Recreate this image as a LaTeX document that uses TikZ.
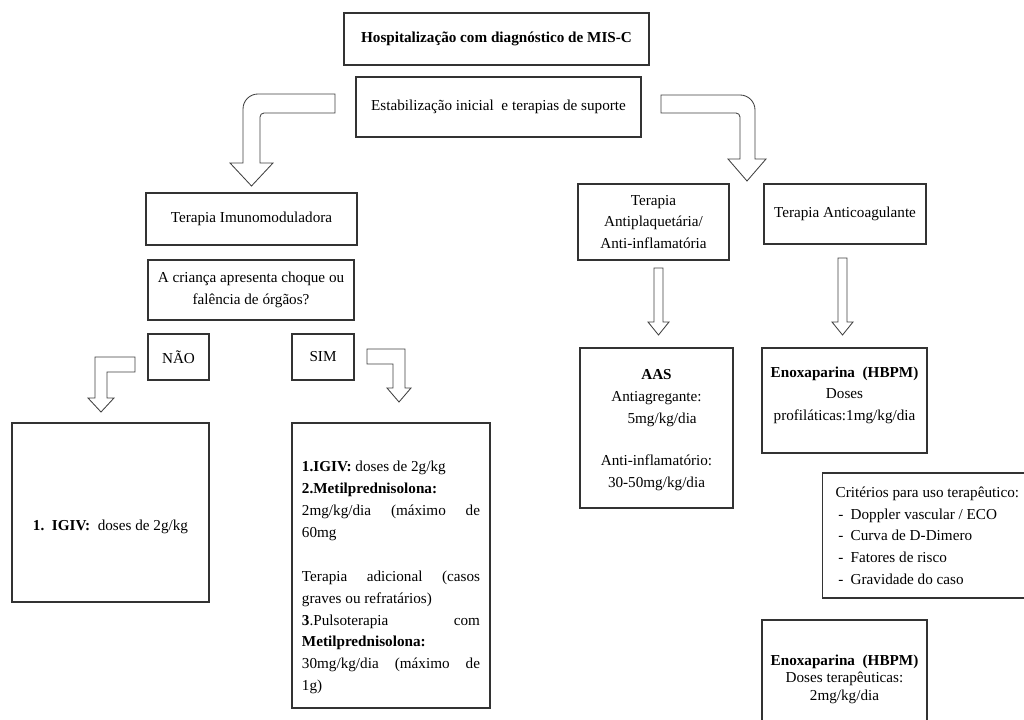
\documentclass[tikz,border=0pt]{standalone}
\usepackage{fontspec}
\setmainfont{Liberation Serif}
\tikzstyle{box} = [draw=black!80, line width=0.9pt, rectangle, align=center, inner sep=2pt]
\tikzstyle{hollow} = [draw=black!75, line width=0.6pt, fill=white, line join=miter]
\tikzset{boxsize/.style 2 args={minimum width=#1*0.025cm, minimum height=#2*0.025cm}}
% straight hollow arrow: x, top of shaft, tip
\newcommand{\hollowdown}[3]{%
  \draw [hollow] (#1-4.5,#2) -- (#1+4.5,#2) -- (#1+4.5,#3-13) -- (#1+10.5,#3-13)
    -- (#1,#3) -- (#1-10.5,#3-13) -- (#1-4.5,#3-13) -- cycle;}
\newcommand{\itemdash}{\makebox[10.7pt][l]{\hspace{2pt}-}}

\begin{document}
\begin{tikzpicture}[x=0.025cm, y=-0.025cm, font=\fontsize{10.8}{15.4}\selectfont]
\useasboundingbox (0,0) rectangle (1024,720);
\clip (0,0) rectangle (1024,720);

% Place nodes
\node [box, boxsize={305}{52}] (hosp) at (496.5,39) {\textbf{Hospitalização com diagnóstico de MIS-C}};
\node [box, boxsize={285}{60}] (estab) at (498.5,107) {Estabilização inicial~ e terapias de suporte};
\node [box, boxsize={211}{52}] (imuno) at (251.5,219) {Terapia Imunomoduladora};
\node [box, boxsize={206}{60}] (choque) at (251,290) {A criança apresenta choque ou\\falência de órgãos?};
\node [box, boxsize={61}{46}] (nao) at (178.5,357) {NÃO};
\node [box, boxsize={62}{46}] (sim) at (323,357) {SIM};
\node [box, boxsize={197}{179}] (igiv) at (110.5,512.5) {\mbox{}\\[12pt]\textbf{1.~~IGIV:}~~doses de 2g/kg};
\node [box, boxsize={198}{285}, text width=4.45cm, inner xsep=0.25cm, align=justify,
       font=\fontsize{10.8}{15.6}\selectfont] (pulso) at (391,565.5)
  {\mbox{}\\[9pt]
   \textbf{1.IGIV:} doses de 2g/kg\\
   \textbf{2.Metilprednisolona:}\\
   2mg/kg/dia\hfill(máximo\hfill de\\
   60mg\\
   \mbox{}\\
   Terapia\hfill adicional\hfill (casos\\
   graves ou refratários)\\
   \textbf{3}.Pulsoterapia\hfill com\\
   \textbf{Metilprednisolona:}\\
   30mg/kg/dia\hfill (máximo\hfill de\\
   1g)};
\node [box, boxsize={151}{76}] (antiplaq) at (653.5,222) {Terapia\\Antiplaquetária/\\Anti-inflamatória};
\node [box, boxsize={162}{60}] (anticoag) at (845,214) {Terapia Anticoagulante};
\node [box, boxsize={153}{160}] (aas) at (656.5,428)
  {\mbox{}\\[-5pt]\textbf{AAS}\\Antiagregante:\\\hspace*{8pt}5mg/kg/dia\\[15pt]Anti-inflamatório:\\30-50mg/kg/dia};
\node [box, boxsize={165}{105}] (enoxprof) at (844.5,400.5)
  {\textbf{Enoxaparina~~(HBPM)}\\Doses\\profiláticas:1mg/kg/dia\\[-5.7pt]\mbox{}};
\node [box, boxsize={246}{125}, text width=5.5cm, inner xsep=0.325cm, align=flush left, anchor=west] (criterios) at (822,535.5)
  {Critérios para uso terapêutico:\\
   \itemdash Doppler vascular / ECO\\
   \itemdash Curva de D-Dimero\\
   \itemdash Fatores de risco\\
   \itemdash Gravidade do caso};
\node [box, boxsize={165}{118}, font=\fontsize{10.8}{12.5}\selectfont] (enoxter) at (844.5,679)
  {\textbf{Enoxaparina~~(HBPM)}\\Doses terapêuticas:\\2mg/kg/dia};

% Place arrows
\draw [hollow] (335,94) -- (258,94) to[out=180,in=90] (243,109) -- (243,163) -- (230,163) -- (251.5,186)
  -- (273,163) -- (260,163) -- (260,117) to[out=90,in=180] (264,113) -- (335,113) -- cycle;
\draw [hollow] (661,95) -- (740,95) to[out=0,in=90] (755,110) -- (755,159) -- (766,159) -- (747,181)
  -- (728,159) -- (740,159) -- (740,117) to[out=90,in=0] (736,113) -- (661,113) -- cycle;
\draw [hollow] (135,357) -- (95,357) -- (95,398) -- (88,398) -- (101,412) -- (114,398) -- (107,398)
  -- (107,372) -- (135,372) -- cycle;
\draw [hollow] (367,349) -- (405,349) -- (405,388) -- (411,388) -- (399,402) -- (387,388) -- (393,388)
  -- (393,364) -- (367,364) -- cycle;
\hollowdown{658.5}{268}{335}
\hollowdown{842.5}{258}{335}

\end{tikzpicture}
\end{document}
